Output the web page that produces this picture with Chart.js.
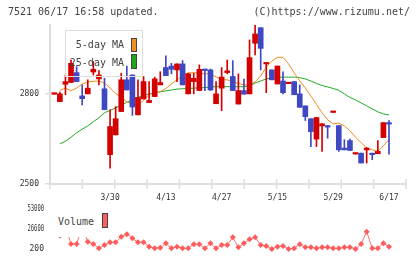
<!DOCTYPE html>
<html>
<head>
<meta charset="utf-8">
<script src="https://cdn.jsdelivr.net/npm/chart.js@4/dist/chart.umd.min.js"></script>
<style>
  body { margin: 0; background: #fff; }
  #wrap { position: relative; width: 420px; height: 259px; overflow: hidden; font-family: "DejaVu Sans Mono", monospace; }
  #wrap canvas { position: absolute; left: 0; top: 0; }
  .txt { position: absolute; font-size: 10px; line-height: 12px; color: #444; white-space: nowrap; }
  .sw { position: absolute; box-sizing: border-box; border: 1px solid #444; }
</style>
</head>
<body>
<div id="wrap">
  <canvas id="priceChart" width="420" height="259"></canvas>
  <canvas id="volumeChart" width="420" height="259"></canvas>

  <div class="txt" style="left:8px; top:6px;">7521 06/17 16:58 updated.</div>
  <div class="txt" style="right:10px; top:6px;">(C)https://www.rizumu.net/</div>

  <div style="position:absolute; left:65px; top:30px; width:78px; height:47px; box-sizing:border-box; border:1px solid #ddd;"></div>
  <div class="txt" style="right:296px; top:39px;">5-day MA</div>
  <div class="sw" style="left:131px; top:38px; width:6px; height:14px; background:#f0901e;"></div>
  <div class="txt" style="right:296px; top:57px;">25-day MA</div>
  <div class="sw" style="left:131px; top:54px; width:6px; height:15px; background:#1aa81a;"></div>

  <div style="position:absolute; left:51px; top:211px; width:61px; height:26px; background:#fff;"></div>
  <div class="txt" style="left:58px; top:216px;">Volume</div>
  <div class="sw" style="left:102px; top:213px; width:6px; height:15px; background:#ff5c5c;"></div>
</div>

<script>
const dateLabels = ["3/30", "4/13", "4/27", "5/15", "5/29", "6/17"];
const labelIdx = [10, 20, 30, 40, 50, 60];

const opens = [2800, 2775, 2833, 2839, 2872, 2794, 2801, 2874, 2851, 2818,
  2598, 2664, 2742, 2848, 2864, 2731, 2784, 2772, 2792, 2831,
  2889, 2894, 2881, 2901, 2801, 2842, 2812, 2883, 2881, 2768,
  2820, 2872, 2859, 2767, 2812, 2801, 2970, 3022, 2901, 2881,
  2834, 2844, 2835, 2842, 2801, 2761, 2718, 2650, 2694, 2695,
  2739, 2695, 2620, 2645, 2600, 2603, 2614, 2603, 2601, 2655, 2705];
const highs = [2803, 2807, 2864, 2914, 2892, 2831, 2848, 2909, 2879, 2853,
  2748, 2759, 2870, 2894, 2864, 2848, 2859, 2842, 2857, 2875,
  2928, 2903, 2901, 2912, 2870, 2870, 2898, 2884, 2884, 2842,
  2889, 2914, 2912, 2868, 2850, 2981, 3031, 3022, 2905, 2881,
  2894, 2875, 2839, 2842, 2831, 2761, 2718, 2722, 2703, 2695,
  2741, 2695, 2648, 2650, 2603, 2603, 2622, 2603, 2645, 2705, 2712];
const lows = [2799, 2775, 2798, 2839, 2842, 2764, 2801, 2864, 2831, 2748,
  2553, 2664, 2742, 2814, 2729, 2731, 2784, 2772, 2792, 2831,
  2862, 2868, 2842, 2831, 2801, 2801, 2812, 2812, 2812, 2768,
  2745, 2868, 2812, 2767, 2800, 2801, 2931, 2881, 2805, 2848,
  2834, 2801, 2835, 2798, 2756, 2712, 2625, 2625, 2609, 2653,
  2739, 2609, 2614, 2612, 2600, 2570, 2570, 2581, 2601, 2655, 2600];
const closes = [2801, 2801, 2842, 2903, 2842, 2785, 2820, 2883, 2864, 2748,
  2692, 2718, 2848, 2814, 2757, 2789, 2842, 2779, 2851, 2839,
  2862, 2883, 2901, 2831, 2868, 2853, 2883, 2879, 2814, 2801,
  2857, 2878, 2812, 2812, 2800, 2922, 3001, 2953, 2905, 2848,
  2894, 2805, 2839, 2798, 2756, 2725, 2675, 2722, 2701, 2690,
  2741, 2614, 2614, 2612, 2603, 2570, 2620, 2598, 2609, 2705, 2700];

const ma5 = [null, 2813, 2820, 2812, 2820, 2834, 2841, 2843, 2844, 2837,
  2821, 2802, 2791, 2774, 2768, 2764, 2779, 2799, 2804, 2808,
  2819, 2834, 2848, 2861, 2871, 2872, 2870, 2869, 2866, 2858,
  2848, 2848, 2841, 2836, 2831, 2831, 2841, 2861, 2891, 2911,
  2923, 2923, 2901, 2871, 2844, 2821, 2794, 2766, 2738, 2714,
  2701, 2703, 2694, 2678, 2656, 2638, 2620, 2614, 2609, 2628, 2648];
const ma25 = [null, 2634, 2643, 2656, 2671, 2683, 2694, 2708, 2721, 2738,
  2746, 2754, 2763, 2773, 2779, 2789, 2796, 2801, 2804, 2808,
  2811, 2814, 2817, 2818, 2819, 2820, 2821, 2822, 2824, 2825,
  2825, 2825, 2825, 2825, 2825, 2828, 2837, 2844, 2851, 2854,
  2856, 2857, 2857, 2857, 2855, 2851, 2844, 2836, 2829, 2824,
  2819, 2813, 2801, 2789, 2781, 2771, 2761, 2751, 2741, 2734, 2731];

const volumes = [30000, 18000, 30000, 6800, 6800, 30000, 9800, 6800, 1100, 5500,
  9000, 9000, 16400, 19800, 14300, 9000, 9000, 3300, 1100, 1900,
  7700, 1100, 3300, 1100, 1100, 6400, 6400, 1100, 7700, 1100,
  5500, 5500, 15600, 2400, 7700, 13000, 15600, 5500, 4200, 300,
  3300, 4200, 300, 1100, 6400, 2400, 2400, 1100, 2400, 2400,
  1100, 1100, 2400, 2400, 300, 6800, 23000, 1100, 1100, 7700, 3300];
const volumeTicks = [200, 26600, 53000];

const UP = "#d40000";
const DOWN = "#4047c2";
const X_MIN = -0.77;
const X_MAX = 63.05;
const TICK_COUNT = 11;
const FONT = "'DejaVu Sans Mono', monospace";

const isUp = (i) => closes[i] >= opens[i];
const candleColor = (ctx) => (isUp(ctx.dataIndex) ? UP : DOWN);
const points = (arr) => arr.map((v, i) => ({ x: i, y: v }));
const plainLabel = (value) => String(value);

// short tick marks crossing the x axis line
const axisTicks = {
  id: "axisTicks",
  afterDraw(chart) {
    const { ctx, chartArea: a } = chart;
    ctx.save();
    ctx.strokeStyle = "#dddddd";
    ctx.lineWidth = 1.5;
    for (let k = 0; k <= TICK_COUNT; k++) {
      const x = a.left + ((a.right - a.left) * k) / TICK_COUNT;
      ctx.beginPath();
      ctx.moveTo(x, a.bottom - 5);
      ctx.lineTo(x, a.bottom + 5);
      ctx.stroke();
    }
    ctx.restore();
  },
};

// volume tick labels are squeezed into a narrow column, like the original
const squeezedLabels = {
  id: "squeezedLabels",
  afterDraw(chart) {
    const { ctx } = chart;
    const y = chart.scales.y;
    ctx.save();
    ctx.font = "8px " + FONT;
    ctx.fillStyle = "#333";
    ctx.textAlign = "right";
    ctx.textBaseline = "middle";
    volumeTicks.forEach((v) => {
      ctx.fillText(String(v), y.right - 6, y.getPixelForValue(v), 16.5);
    });
    ctx.restore();
  },
};

new Chart(document.getElementById("priceChart"), {
  type: "bar",
  data: {
    datasets: [
      {
        type: "line",
        data: points(ma25),
        borderColor: "#22aa22",
        borderWidth: 1,
        pointRadius: 0,
        order: 4,
      },
      {
        type: "line",
        data: points(ma5),
        borderColor: "#f08c1a",
        borderWidth: 1,
        pointRadius: 0,
        order: 3,
      },
      {
        data: opens.map((o, i) => ({ x: i, y: [lows[i], highs[i]] })),
        backgroundColor: candleColor,
        barThickness: 1,
        grouped: false,
        order: 2,
      },
      {
        data: opens.map((o, i) => ({ x: i, y: [o, closes[i]] })),
        backgroundColor: candleColor,
        barThickness: 5,
        minBarLength: 1.5,
        grouped: false,
        order: 1,
      },
    ],
  },
  options: {
    responsive: false,
    animation: false,
    layout: { padding: { top: 25, right: 14, bottom: 55, left: 0 } },
    plugins: { legend: { display: false }, tooltip: { enabled: false } },
    scales: {
      x: {
        type: "linear",
        min: X_MIN,
        max: X_MAX,
        bounds: "data",
        offset: false,
        grid: { display: false, drawTicks: false, offset: false },
        border: { display: true, color: "#dddddd", width: 2 },
        ticks: {
          autoSkip: false,
          maxRotation: 0,
          padding: 9,
          color: "#333",
          font: { family: FONT, size: 8 },
          callback: (value) => dateLabels[labelIdx.indexOf(value)],
        },
        afterBuildTicks: (scale) => {
          scale.ticks = labelIdx.map((v) => ({ value: v }));
        },
        afterFit: (scale) => {
          scale.height = 20;
        },
      },
      y: {
        min: 2500,
        max: 3031,
        grid: { display: true, drawOnChartArea: false, drawTicks: true, tickLength: 5, color: "#dddddd", lineWidth: 1.5 },
        border: { display: true, color: "#dddddd", width: 2 },
        ticks: { padding: 6, color: "#333", font: { family: FONT, size: 8 }, callback: plainLabel },
        afterBuildTicks: (scale) => {
          scale.ticks = [{ value: 2500 }, { value: 2800 }];
        },
        afterFit: (scale) => {
          scale.width = 50;
        },
      },
    },
  },
  plugins: [axisTicks],
});

new Chart(document.getElementById("volumeChart"), {
  type: "line",
  data: {
    datasets: [
      {
        data: points(volumes),
        borderColor: "#ff7070",
        borderWidth: 1,
        pointStyle: "rectRot",
        pointRadius: 3,
        pointBorderWidth: 0,
        pointBackgroundColor: "#ff5c5c",
        clip: false,
      },
    ],
  },
  options: {
    responsive: false,
    animation: false,
    layout: { padding: { top: 209, right: 14, bottom: 10, left: 0 } },
    plugins: { legend: { display: false }, tooltip: { enabled: false } },
    scales: {
      x: { type: "linear", min: X_MIN, max: X_MAX, bounds: "data", offset: false, display: false },
      y: {
        min: 200,
        max: 53000,
        grid: { display: false, drawTicks: false },
        border: { display: false },
        ticks: { display: false },
        afterFit: (scale) => {
          scale.width = 50;
        },
      },
    },
  },
  plugins: [squeezedLabels],
});
</script>
</body>
</html>
